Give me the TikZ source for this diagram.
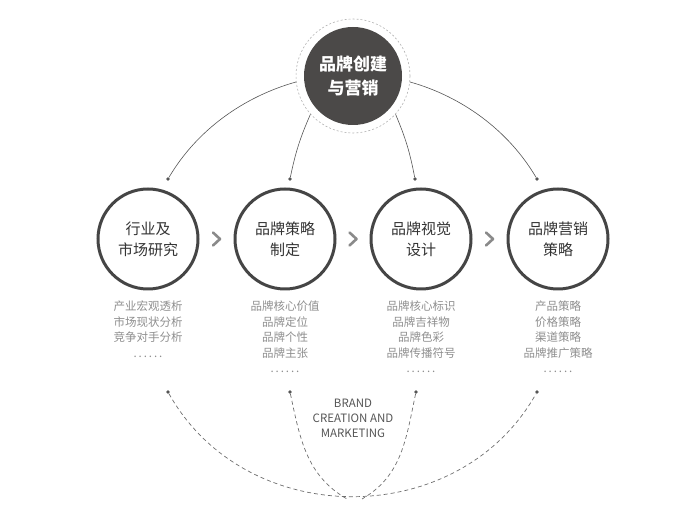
\documentclass[tikz,border=0pt]{standalone}
\usepackage{fontspec}
\setmainfont{Noto Sans CJK SC}
\usetikzlibrary{positioning,calc}

\definecolor{corefill}{HTML}{4B4948}
\definecolor{stageline}{HTML}{454545}
\definecolor{stagetext}{HTML}{333333}
\definecolor{itemtext}{HTML}{8E8E8E}
\definecolor{chevgray}{HTML}{8A8A8A}
\definecolor{linkgray}{HTML}{555555}

\tikzset{
  stage/.style={circle, draw=stageline, line width=3pt, minimum size=100pt,
    inner sep=0pt, align=center, text=stagetext, font=\fontsize{15}{21}\selectfont},
  items/.style={inner sep=0pt, align=center, text=itemtext,
    font=\fontsize{11.5}{15.6}\selectfont},
  dot/.style={circle, fill=linkgray, inner sep=0pt, minimum size=3.6pt},
  link/.style={draw=linkgray, line width=0.6pt},
  trace/.style={draw=linkgray!85, line width=0.7pt, dash pattern=on 4pt off 3pt},
  chev/.style={draw=chevgray, line width=2.6pt, line cap=round, line join=round}
}

\begin{document}
\begin{tikzpicture}[x=1pt, y=1pt]
    \useasboundingbox (0,0) rectangle (695,521);

    % core
    \node[circle, draw=gray!60, line width=0.6pt, dash pattern=on 2pt off 2pt,
      minimum size=114pt, inner sep=0pt] (ring) at (353,445) {};
    \node[circle, fill=corefill, minimum size=98pt, inner sep=0pt, align=center,
      text=white, font=\fontsize{17}{24}\bfseries\selectfont] (core) at (353,445)
      {品牌创建\\与营销};

    % stages
    \node[stage] (c1) at (148,282) {行业及\\市场研究};
    \node[stage] (c2) at (285,282) {品牌策略\\制定};
    \node[stage] (c3) at (421,282) {品牌视觉\\设计};
    \node[stage] (c4) at (558,282) {品牌营销\\策略};

    \draw[chev] ($(c1)!0.5!(c2)$) ++(-3.5,6.5) -- ++(7,-6.5) -- ++(-7,-6.5);
    \draw[chev] ($(c2)!0.5!(c3)$) ++(-3.5,6.5) -- ++(7,-6.5) -- ++(-7,-6.5);
    \draw[chev] ($(c3)!0.5!(c4)$) ++(-3.5,6.5) -- ++(7,-6.5) -- ++(-7,-6.5);

    \node[items, below=10pt of c1] (t1) {产业宏观透析\\市场现状分析\\竞争对手分析\\.\,.\,.\,.\,.\,.};
    \node[items, below=10pt of c2] (t2) {品牌核心价值\\品牌定位\\品牌个性\\品牌主张\\.\,.\,.\,.\,.\,.};
    \node[items, below=10pt of c3] (t3) {品牌核心标识\\品牌吉祥物\\品牌色彩\\品牌传播符号\\.\,.\,.\,.\,.\,.};
    \node[items, below=10pt of c4] (t4) {产品策略\\价格策略\\渠道策略\\品牌推广策略\\.\,.\,.\,.\,.\,.};

    % upper links
    \node[dot] (d1) at (168,342) {};
    \node[dot] (d2) at (290,342) {};
    \node[dot] (d3) at (415,342) {};
    \node[dot] (d4) at (537,342) {};
    \draw[link] (ring.186) to[out=195.7, in=59.5, looseness=0.88] (d1);
    \draw[link] (ring.222) to[bend right=6] (d2);
    \draw[link] (ring.318) to[bend left=6] (d3);
    \draw[link] (ring.354) to[out=-15.7, in=120.5, looseness=0.88] (d4);

    % lower links
    \node[dot] (e1) at (168,129) {};
    \node[dot] (e2) at (290,129) {};
    \node[dot] (e3) at (416,129) {};
    \node[dot] (e4) at (537,129) {};
    \coordinate (m1) at (347,22);
    \coordinate (m2) at (362,22);
    \draw[trace] (e1) to[out=-60.7, in=240.7, looseness=1.1] (e4);
    \draw[trace] (e2) to[out=-78, in=150] (m1);
    \draw[trace] (e3) to[out=-102, in=30] (m2);

    \node[inner sep=0pt, align=center, text=linkgray,
      font=\fontsize{11.5}{15}\selectfont] (tag) at (353,103)
      {BRAND\\CREATION AND\\MARKETING};
\end{tikzpicture}
\end{document}
